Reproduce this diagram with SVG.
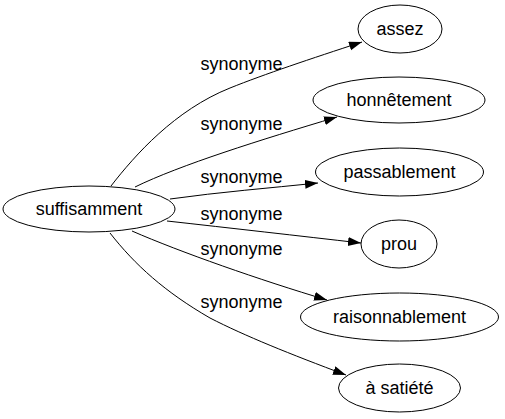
<svg xmlns="http://www.w3.org/2000/svg" width="505" height="419" viewBox="0 0 505 419">
<defs>
<style>
.node ellipse{fill:#fff;stroke:#000;stroke-width:1}
.node text{font-family:"Liberation Sans",Arial,sans-serif;font-size:18px;text-anchor:middle;fill:#000}
.edge path{fill:none;stroke:#000;stroke-width:1;marker-end:url(#arr)}
.lbl{font-family:"Liberation Sans",Arial,sans-serif;font-size:18px;text-anchor:middle;fill:#000}
</style>
<marker id="arr" markerUnits="userSpaceOnUse" markerWidth="14" markerHeight="10" refX="13" refY="4.5" orient="auto">
<path d="M0,0 L13,4.5 L0,9 z" fill="#000"/>
</marker>
</defs>
<rect width="505" height="419" fill="#fff"/>
<g id="edges">
<g class="edge"><path d="M111,186 C135,155 175,110 230,88 C265,74 310,59 362,42"/><text class="lbl" x="241.5" y="70">synonyme</text></g>
<g class="edge"><path d="M135,187 C180,165 260,140 337,117"/><text class="lbl" x="241.5" y="130">synonyme</text></g>
<g class="edge"><path d="M170,199 C220,192 270,188 318,183"/><text class="lbl" x="241.5" y="183">synonyme</text></g>
<g class="edge"><path d="M167,221 C230,228 300,236 361,243"/><text class="lbl" x="241.5" y="220">synonyme</text></g>
<g class="edge"><path d="M132,231 C180,252 260,280 327,300"/><text class="lbl" x="241.5" y="255">synonyme</text></g>
<g class="edge"><path d="M110,233 C135,265 165,292 210,318 C245,336 290,354 346,375"/><text class="lbl" x="241.5" y="308">synonyme</text></g>
</g>
<g id="suffisamment" class="node"><ellipse cx="89" cy="209" rx="86" ry="23"/><text x="89" y="215">suffisamment</text></g>
<g id="assez" class="node"><ellipse cx="400" cy="29" rx="42" ry="24"/><text x="400" y="35">assez</text></g>
<g id="honnetement" class="node"><ellipse cx="399" cy="100" rx="86" ry="23"/><text x="399" y="106">honnêtement</text></g>
<g id="passablement" class="node"><ellipse cx="399.5" cy="172" rx="84" ry="24"/><text x="399.5" y="178">passablement</text></g>
<g id="prou" class="node"><ellipse cx="399" cy="244" rx="38" ry="24"/><text x="399" y="250">prou</text></g>
<g id="raisonnablement" class="node"><ellipse cx="399.5" cy="317" rx="99" ry="24"/><text x="399.5" y="323">raisonnablement</text></g>
<g id="a-satiete" class="node"><ellipse cx="399.5" cy="388" rx="61" ry="24"/><text x="399.5" y="394">à satiété</text></g>
</svg>
